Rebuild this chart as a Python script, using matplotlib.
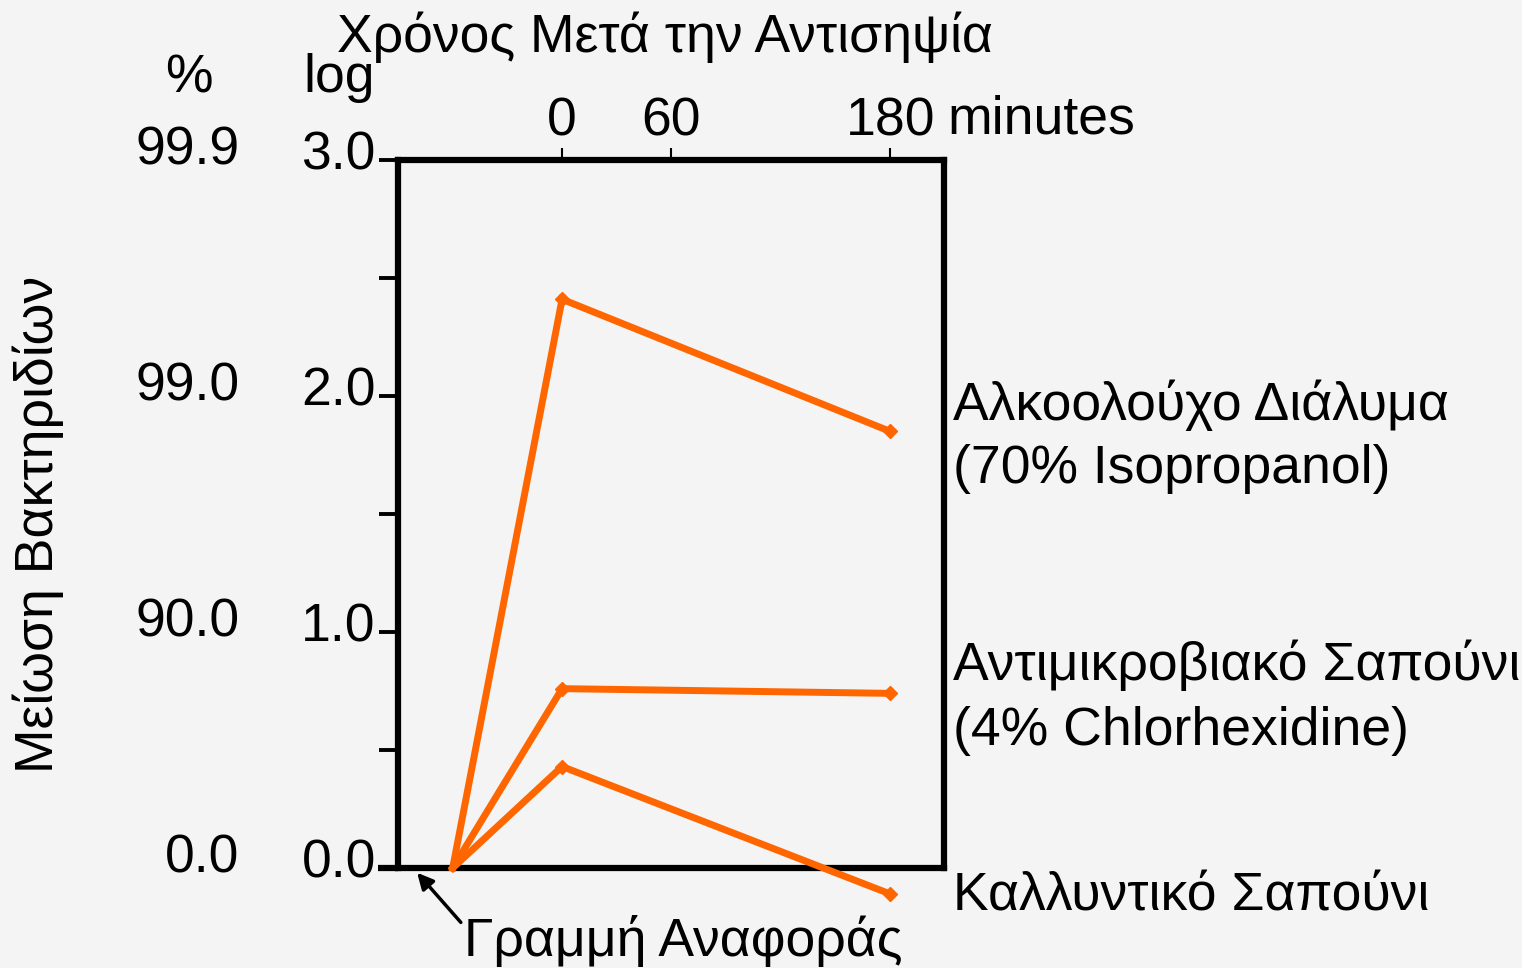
import matplotlib.pyplot as plt
import matplotlib.transforms as mtransforms

# data
minutes = [-60, 0, 180]
alcohol = [0.0, 2.41, 1.85]
chlorhex = [0.0, 0.76, 0.74]
soap = [0.0, 0.43, -0.11]

log_ticks = [0.0, 1.0, 2.0, 3.0]
log_labels = ['0.0', '1.0', '2.0', '3.0']
pct_labels = ['0.0', '90.0', '99.0', '99.9']
minor_ticks = [0.5, 1.5, 2.5]
time_ticks = [0, 60, 180]

series_lines = [['Αλκοολούχο Διάλυμα', '(70% Isopropanol)'],
                ['Αντιμικροβιακό Σαπούνι', '(4% Chlorhexidine)'],
                ['Καλλυντικό Σαπούνι']]
series_label_y = [[1.96, 1.69], [0.86, 0.58], [-0.12]]

plt.rcParams['font.family'] = ['Liberation Sans', 'DejaVu Sans']
fs = 38.5
orange = '#ff6600'
bg = '#f4f4f4'

fig = plt.figure(figsize=(15.22, 9.68), dpi=100, facecolor=bg)
ax = fig.add_axes([0.2615, 0.1033, 0.3587, 0.7314], facecolor=bg)
ax.set_xlim(-90, 209.5)
ax.set_ylim(0, 3.0)

for s in ax.spines.values():
    s.set_linewidth(4.5)
    s.set_color('black')

# left axis ticks
ax.set_yticks(log_ticks)
ax.set_yticklabels(log_labels, fontsize=fs)
ax.set_yticks(minor_ticks, minor=True)
ax.tick_params(axis='y', which='both', direction='out', length=14, width=2.8,
               pad=2, labelsize=fs)
shift = mtransforms.ScaledTranslation(0, 10 / 100, fig.dpi_scale_trans)
for lab in ax.get_yticklabels():
    lab.set_transform(lab.get_transform() + shift)

# percent labels
for y, t in zip(log_ticks, pct_labels):
    txt = ax.text(-0.29, y, t, transform=ax.get_yaxis_transform(), ha='right',
                  va='center', fontsize=fs)
    txt.set_transform(txt.get_transform() + shift)

# top axis ticks
ax.xaxis.tick_top()
ax.set_xticks(time_ticks)
ax.set_xticklabels([str(t) for t in time_ticks], fontsize=fs)
ax.tick_params(axis='x', direction='out', length=9, width=1.5, pad=1,
               labelsize=fs)
ax.text(1.007, 1.057, 'minutes', transform=ax.transAxes, ha='left',
        va='center', fontsize=fs)

# extend the baseline to the left like the original
ax.plot([-101, -90], [0, 0], color='black', lw=4.5, clip_on=False,
        solid_capstyle='butt')

for vals in (alcohol, chlorhex, soap):
    ax.plot(minutes, vals, color=orange, lw=5, marker='D', markersize=7.5,
            markevery=[1, 2], clip_on=False, solid_joinstyle='miter', zorder=3)

# series labels
for lines, ys in zip(series_lines, series_label_y):
    for t, y in zip(lines, ys):
        ax.text(1.017, y, t, transform=ax.get_yaxis_transform(), ha='left',
                va='center', fontsize=fs)

# headers
fig.text(0.437, 0.962, 'Χρόνος Μετά την Αντισηψία', ha='center',
         va='center', fontsize=fs)
fig.text(0.124, 0.919, '%', ha='center', va='center', fontsize=fs)
fig.text(0.223, 0.919, 'log', ha='center', va='center', fontsize=fs)
fig.text(0.025, 0.458, 'Μείωση Βακτηριδίων', rotation=90, ha='center',
         va='center', fontsize=fs)

# reference line note
ax.annotate('Γραμμή Αναφοράς', xy=(-79.5, -0.02), xytext=(-54, -0.31),
            textcoords='data', fontsize=fs, ha='left', va='center',
            annotation_clip=False,
            arrowprops=dict(arrowstyle='-|>', color='black', lw=2.5,
                            shrinkA=0, shrinkB=0, mutation_scale=24,
                            relpos=(0, 0.8)))

fig.savefig('out.png', dpi=100, facecolor=bg)
